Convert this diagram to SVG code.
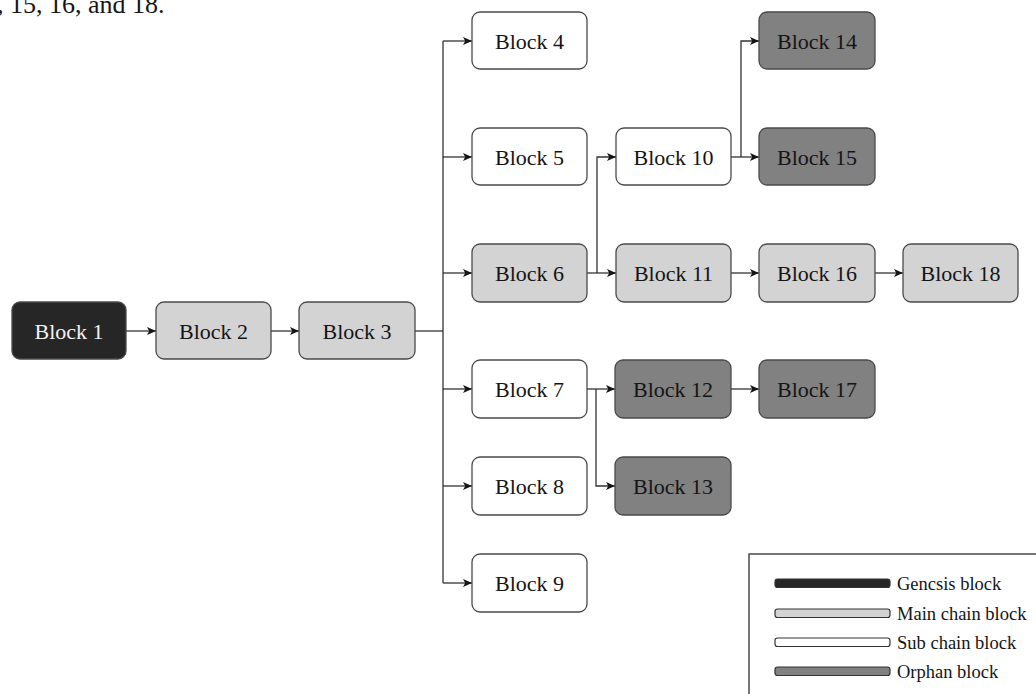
<svg xmlns="http://www.w3.org/2000/svg" width="1036" height="694" viewBox="0 0 1036 694">
  <style>
    .blk { stroke: #4a4a4a; stroke-width: 1.3; }
    .genesis { fill: #262626; }
    .main { fill: #d3d3d3; }
    .sub { fill: #ffffff; }
    .orphan { fill: #818181; }
    .lbl { font-family: "Liberation Serif", "Times New Roman", serif; font-size: 22px; fill: #151515; text-anchor: middle; }
    .lbl.light { fill: #f2f2f2; }
    .conn { fill: none; stroke: #333; stroke-width: 1.3; }
    .arrow { marker-end: url(#head); }
    .legend-text { font-family: "Liberation Serif", "Times New Roman", serif; font-size: 18.5px; fill: #151515; }
    .bar { stroke: #333; stroke-width: 1.2; }
  </style>
  <defs>
    <marker id="head" viewBox="0 0 9 8" refX="9" refY="4" markerWidth="9" markerHeight="8" markerUnits="userSpaceOnUse" orient="auto">
      <path d="M0,0 L9,4 L0,8 L2.2,4 z" fill="#151515"/>
    </marker>
  </defs>

  <rect width="1036" height="694" fill="#ffffff"/>

  <!-- caption fragment along the top edge -->
  <text x="-3" y="13" font-family="Liberation Serif, Times New Roman, serif" font-size="26" fill="#151515">, 15, 16, and 18.</text>

  <!-- connectors -->
  <g id="connectors">
    <path class="conn arrow" d="M126,331 H156"/>
    <path class="conn arrow" d="M271,331 H299"/>
    <path class="conn" d="M415,331 H443"/>
    <path class="conn" d="M443,41 V583"/>
    <path class="conn arrow" d="M443,41 H472"/>
    <path class="conn arrow" d="M443,157 H472"/>
    <path class="conn arrow" d="M443,273 H472"/>
    <path class="conn arrow" d="M443,389 H472"/>
    <path class="conn arrow" d="M443,486 H472"/>
    <path class="conn arrow" d="M443,583 H472"/>
    <!-- Block 6 branches -->
    <path class="conn arrow" d="M587,273 H616"/>
    <path class="conn arrow" d="M597,273 V157 H616"/>
    <!-- Block 10 branches -->
    <path class="conn arrow" d="M731,157 H759"/>
    <path class="conn arrow" d="M741,157 V41 H759"/>
    <!-- main chain continuation -->
    <path class="conn arrow" d="M731,273 H759"/>
    <path class="conn arrow" d="M875,273 H903"/>
    <!-- Block 7 branches -->
    <path class="conn arrow" d="M587,389 H615"/>
    <path class="conn arrow" d="M596,389 V486 H615"/>
    <path class="conn arrow" d="M731,389 H759"/>
  </g>

  <!-- blocks -->
  <g id="block1"><rect class="blk genesis" x="12" y="302" width="114" height="57" rx="8"/><text class="lbl light" x="69" y="338.5">Block 1</text></g>
  <g id="block2"><rect class="blk main" x="156" y="302" width="115" height="57" rx="8"/><text class="lbl" x="213.5" y="338.5">Block 2</text></g>
  <g id="block3"><rect class="blk main" x="299" y="302" width="116" height="57" rx="8"/><text class="lbl" x="357" y="338.5">Block 3</text></g>

  <g id="block4"><rect class="blk sub" x="472" y="12" width="115" height="57" rx="8"/><text class="lbl" x="529.5" y="48.5">Block 4</text></g>
  <g id="block5"><rect class="blk sub" x="472" y="128" width="115" height="57" rx="8"/><text class="lbl" x="529.5" y="164.5">Block 5</text></g>
  <g id="block6"><rect class="blk main" x="472" y="244" width="115" height="58" rx="8"/><text class="lbl" x="529.5" y="280.5">Block 6</text></g>
  <g id="block7"><rect class="blk sub" x="472" y="360" width="115" height="58" rx="8"/><text class="lbl" x="529.5" y="396.5">Block 7</text></g>
  <g id="block8"><rect class="blk sub" x="472" y="457" width="115" height="58" rx="8"/><text class="lbl" x="529.5" y="493.5">Block 8</text></g>
  <g id="block9"><rect class="blk sub" x="472" y="554" width="115" height="58" rx="8"/><text class="lbl" x="529.5" y="590.5">Block 9</text></g>

  <g id="block10"><rect class="blk sub" x="616" y="128" width="115" height="57" rx="8"/><text class="lbl" x="673.5" y="164.5">Block 10</text></g>
  <g id="block11"><rect class="blk main" x="616" y="244" width="115" height="58" rx="8"/><text class="lbl" x="673.5" y="280.5">Block 11</text></g>
  <g id="block12"><rect class="blk orphan" x="615" y="360" width="116" height="58" rx="8"/><text class="lbl" x="673" y="396.5">Block 12</text></g>
  <g id="block13"><rect class="blk orphan" x="615" y="457" width="116" height="58" rx="8"/><text class="lbl" x="673" y="493.5">Block 13</text></g>

  <g id="block14"><rect class="blk orphan" x="759" y="12" width="116" height="57" rx="8"/><text class="lbl" x="817" y="48.5">Block 14</text></g>
  <g id="block15"><rect class="blk orphan" x="759" y="128" width="116" height="57" rx="8"/><text class="lbl" x="817" y="164.5">Block 15</text></g>
  <g id="block16"><rect class="blk main" x="759" y="244" width="116" height="58" rx="8"/><text class="lbl" x="817" y="280.5">Block 16</text></g>
  <g id="block17"><rect class="blk orphan" x="759" y="360" width="116" height="58" rx="8"/><text class="lbl" x="817" y="396.5">Block 17</text></g>
  <g id="block18"><rect class="blk main" x="903" y="244" width="115" height="58" rx="8"/><text class="lbl" x="960.5" y="280.5">Block 18</text></g>

  <!-- legend -->
  <g id="legend">
    <rect x="749" y="554" width="300" height="160" fill="#ffffff" stroke="#4a4a4a" stroke-width="1.5"/>
    <rect class="bar genesis" x="775" y="579" width="115" height="8.5" rx="2.5"/>
    <text class="legend-text" x="897" y="590">Gencsis block</text>
    <rect class="bar main" x="775" y="609" width="115" height="8.5" rx="2.5"/>
    <text class="legend-text" x="897" y="620">Main chain block</text>
    <rect class="bar sub" x="775" y="638" width="115" height="8.5" rx="2.5"/>
    <text class="legend-text" x="897" y="649">Sub chain block</text>
    <rect class="bar orphan" x="775" y="667" width="115" height="8.5" rx="2.5"/>
    <text class="legend-text" x="897" y="678">Orphan block</text>
  </g>
</svg>
